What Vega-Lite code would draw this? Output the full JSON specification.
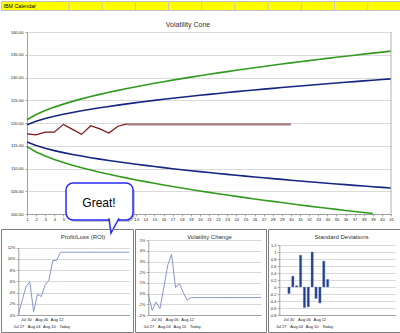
{
  "$schema": "https://vega.github.io/schema/vega-lite/v6.json",
  "padding": 0,
  "background": "white",
  "bounds": "flush",
  "spacing": 0,
  "config": {
    "font": "Liberation Sans",
    "view": {"stroke": null},
    "axis": {"domainColor": "#a0a0a0", "tickColor": "#a0a0a0", "gridColor": "#d9d9d9", "labelColor": "#222222", "labelFont": "Liberation Sans", "labelOverlap": false}
  },
  "datasets": {
    "cone": [
      {"t":1,"ug":120.70,"ub":119.60,"lb":115.80,"lg":114.80,"act":117.6},
      {"t":2,"ug":121.85,"ub":120.37,"lb":115.03,"lg":113.64,"act":117.4},
      {"t":3,"ug":122.74,"ub":120.97,"lb":114.43,"lg":112.75,"act":118.0},
      {"t":4,"ug":123.49,"ub":121.47,"lb":113.93,"lg":111.99,"act":118.0},
      {"t":5,"ug":124.15,"ub":121.91,"lb":113.49,"lg":111.33,"act":119.7},
      {"t":6,"ug":124.75,"ub":122.31,"lb":113.09,"lg":110.73,"act":118.6},
      {"t":7,"ug":125.30,"ub":122.68,"lb":112.73,"lg":110.18,"act":117.5},
      {"t":8,"ug":125.81,"ub":123.02,"lb":112.38,"lg":109.67,"act":119.4},
      {"t":9,"ug":126.29,"ub":123.34,"lb":112.06,"lg":109.19,"act":118.7},
      {"t":10,"ug":126.74,"ub":123.64,"lb":111.76,"lg":108.74,"act":117.8},
      {"t":11,"ug":127.17,"ub":123.93,"lb":111.47,"lg":108.30,"act":119.3},
      {"t":12,"ug":127.58,"ub":124.20,"lb":111.20,"lg":107.89,"act":119.8,"proj":119.7},
      {"t":13,"ug":127.98,"ub":124.47,"lb":110.93,"lg":107.49,"proj":119.7},
      {"t":14,"ug":128.36,"ub":124.72,"lb":110.68,"lg":107.11,"proj":119.7},
      {"t":15,"ug":128.73,"ub":124.97,"lb":110.43,"lg":106.74,"proj":119.7},
      {"t":16,"ug":129.08,"ub":125.21,"lb":110.19,"lg":106.39,"proj":119.7},
      {"t":17,"ug":129.42,"ub":125.44,"lb":109.96,"lg":106.04,"proj":119.7},
      {"t":18,"ug":129.76,"ub":125.66,"lb":109.74,"lg":105.71,"proj":119.7},
      {"t":19,"ug":130.08,"ub":125.88,"lb":109.52,"lg":105.38,"proj":119.7},
      {"t":20,"ug":130.40,"ub":126.09,"lb":109.31,"lg":105.06,"proj":119.7},
      {"t":21,"ug":130.71,"ub":126.30,"lb":109.11,"lg":104.75,"proj":119.7},
      {"t":22,"ug":131.01,"ub":126.50,"lb":108.90,"lg":104.45,"proj":119.7},
      {"t":23,"ug":131.30,"ub":126.69,"lb":108.71,"lg":104.16,"proj":119.7},
      {"t":24,"ug":131.59,"ub":126.89,"lb":108.51,"lg":103.87,"proj":119.7},
      {"t":25,"ug":131.88,"ub":127.08,"lb":108.33,"lg":103.59,"proj":119.7},
      {"t":26,"ug":132.15,"ub":127.26,"lb":108.14,"lg":103.31,"proj":119.7},
      {"t":27,"ug":132.42,"ub":127.44,"lb":107.96,"lg":103.03,"proj":119.7},
      {"t":28,"ug":132.69,"ub":127.62,"lb":107.78,"lg":102.77,"proj":119.7},
      {"t":29,"ug":132.95,"ub":127.80,"lb":107.61,"lg":102.51,"proj":119.7},
      {"t":30,"ug":133.21,"ub":127.97,"lb":107.43,"lg":102.25,"proj":119.7},
      {"t":31,"ug":133.46,"ub":128.14,"lb":107.26,"lg":101.99},
      {"t":32,"ug":133.71,"ub":128.30,"lb":107.10,"lg":101.74},
      {"t":33,"ug":133.96,"ub":128.47,"lb":106.93,"lg":101.50},
      {"t":34,"ug":134.20,"ub":128.63,"lb":106.77,"lg":101.26},
      {"t":35,"ug":134.44,"ub":128.79,"lb":106.61,"lg":101.02},
      {"t":36,"ug":134.67,"ub":128.94,"lb":106.46,"lg":100.78},
      {"t":37,"ug":134.90,"ub":129.10,"lb":106.30,"lg":100.55},
      {"t":38,"ug":135.13,"ub":129.25,"lb":106.15,"lg":100.32},
      {"t":39,"ug":135.35,"ub":129.40,"lb":106.00,"lg":100.10},
      {"t":40,"ug":135.58,"ub":129.55,"lb":105.85},
      {"t":41,"ug":135.80,"ub":129.70,"lb":105.70}
    ],
    "roi": [
      {"i":0,"r":0},{"i":1,"r":0.026},{"i":2,"r":0.0505},{"i":3,"r":0.059},{"i":4,"r":0.006},
      {"i":5,"r":0.037},{"i":6,"r":0.033},{"i":7,"r":0.053},{"i":8,"r":0.062},{"i":9,"r":0.097},
      {"i":10,"r":0.097},{"i":11,"r":0.112},{"i":12,"r":0.112},{"i":13,"r":0.112},{"i":14,"r":0.112},
      {"i":15,"r":0.112},{"i":16,"r":0.112},{"i":17,"r":0.112},{"i":18,"r":0.112},{"i":19,"r":0.112},
      {"i":20,"r":0.112},{"i":21,"r":0.112},{"i":22,"r":0.112},{"i":23,"r":0.112},{"i":24,"r":0.112},
      {"i":25,"r":0.112},{"i":26,"r":0.112},{"i":27,"r":0.112},{"i":28,"r":0.112},{"i":29,"r":0.112}
    ],
    "vc": [
      {"i":0,"c":-0.001},{"i":1,"c":-0.0156},{"i":2,"c":-0.0078},{"i":3,"c":-0.014},{"i":4,"c":0.006},
      {"i":5,"c":0.0266},{"i":6,"c":0.0369},{"i":7,"c":0.0056},{"i":8,"c":0.0094},{"i":9,"c":0.001},
      {"i":10,"c":-0.006},{"i":11,"c":-0.0037},{"i":12,"c":-0.0037},{"i":13,"c":-0.0037},{"i":14,"c":-0.0037},
      {"i":15,"c":-0.0037},{"i":16,"c":-0.0037},{"i":17,"c":-0.0037},{"i":18,"c":-0.0037},{"i":19,"c":-0.0037},
      {"i":20,"c":-0.0037},{"i":21,"c":-0.0037},{"i":22,"c":-0.0037},{"i":23,"c":-0.0037},{"i":24,"c":-0.0037},
      {"i":25,"c":-0.0037},{"i":26,"c":-0.0037},{"i":27,"c":-0.0037},{"i":28,"c":-0.0037},{"i":29,"c":-0.0037}
    ],
    "sd": [
      {"i":2,"z":-0.19},{"i":3,"z":0.31},{"i":4,"z":0.04},{"i":5,"z":0.91},{"i":6,"z":-0.59},
      {"i":7,"z":-0.57},{"i":8,"z":1.0},{"i":9,"z":-0.33},{"i":10,"z":-0.46},{"i":11,"z":0.74},{"i":12,"z":0.22}
    ]
  },
  "vconcat": [
    {
      "width": 400,
      "height": 9,
      "view": {"fill": "#ffff00", "stroke": "#c0c0c0"},
      "encoding": {
        "x": {"field": "c", "type": "quantitative", "scale": {"domain": [0, 12], "range": [1.5, 399.9], "nice": false, "zero": false}, "axis": null}
      },
      "layer": [
        {
          "data": {"values": [{"c":1},{"c":2},{"c":3},{"c":4},{"c":5},{"c":6},{"c":7},{"c":8},{"c":9},{"c":10},{"c":11}]},
          "mark": {"type": "rule", "color": "#c8c8c8", "strokeWidth": 1}
        },
        {
          "data": {"values": [{"c": 0.03, "label": "IBM Calendar"}]},
          "mark": {"type": "text", "align": "left", "baseline": "middle", "fontSize": 5.3, "color": "#000000"},
          "encoding": {
            "text": {"field": "label"}
          }
        }
      ]
    },
    {
      "width": 400,
      "height": 219,
      "title": {"text": "Volatility Cone", "fontSize": 7, "fontWeight": "normal", "color": "#333333", "offset": -18, "anchor": "middle", "dx": -13},
      "encoding": {
        "x": {"field": "t", "type": "quantitative",
          "scale": {"domain": [1, 41], "range": [26, 390], "nice": false, "zero": false},
          "axis": {"title": null, "values": [1,2,3,4,5,6,7,8,9,10,11,12,13,14,15,16,17,18,19,20,21,22,23,24,25,26,27,28,29,30,31,32,33,34,35,36,37,38,39,40,41],
            "format": "d", "offset": -15, "tickSize": 2, "labelFontSize": 4.2, "labelPadding": 1, "labelFlush": false, "labelOverlap": false, "grid": false}},
        "y": {"field": "v", "type": "quantitative",
          "scale": {"domain": [100, 140], "range": [204, 22], "nice": false, "zero": false},
          "axis": {"title": null, "values": [100,105,110,115,120,125,130,135,140], "format": ".2f", "offset": -26, "tickSize": 2, "labelFontSize": 4.2, "labelPadding": 2, "labelOverlap": false, "grid": true}}
      },
      "layer": [
        {
          "data": {"name": "cone"},
          "transform": [{"fold": ["ug", "ub", "lb", "lg"], "as": ["s", "v"]}],
          "mark": {"type": "line", "strokeWidth": 1.6},
          "encoding": {
            "color": {"field": "s", "type": "nominal", "scale": {"domain": ["ug", "ub", "lb", "lg"], "range": ["#339a1f", "#152580", "#152580", "#339a1f"]}, "legend": null}
          }
        },
        {
          "data": {"name": "cone"},
          "transform": [{"fold": ["act"], "as": ["s", "v"]}],
          "mark": {"type": "line", "strokeWidth": 1.2, "color": "#7a1416"}
        },
        {
          "data": {"name": "cone"},
          "transform": [{"fold": ["proj"], "as": ["s", "v"]}],
          "mark": {"type": "line", "strokeWidth": 2.2, "color": "#a57a7c"}
        },
        {
          "data": {"values": [{"t": 41, "v": 100, "v2": 140}]},
          "mark": {"type": "rule", "color": "#b0b0b0", "strokeWidth": 1},
          "encoding": {
            "y2": {"field": "v2"}
          }
        },
        {
          "data": {"values": [{"t": 5.51, "t2": 12.87, "v": 106.37, "v2": 98.24}]},
          "mark": {"type": "rect", "cornerRadius": 7, "fill": "#888888", "opacity": 0.45},
          "encoding": {
            "x2": {"field": "t2"},
            "y2": {"field": "v2"}
          }
        },
        {
          "data": {"values": [{"t": 5.29, "t2": 12.65, "v": 106.81, "v2": 98.68}]},
          "mark": {"type": "rect", "cornerRadius": 7, "fill": "#ffffff", "stroke": "#2b2bf0", "strokeWidth": 1.5},
          "encoding": {
            "x2": {"field": "t2"},
            "y2": {"field": "v2"}
          }
        },
        {
          "data": {"values": [{"t": 10.56, "v": 98.68}]},
          "mark": {"type": "point", "shape": "M-0.714,-0.25L-0.43,1.857L0.714,-0.25", "size": 196, "filled": true, "fill": "#ffffff", "stroke": "#2b2bf0", "strokeWidth": 1.5, "opacity": 1}
        },
        {
          "data": {"values": [{"t": 8.91, "v": 102.31, "label": "Great!"}]},
          "mark": {"type": "text", "fontSize": 12, "align": "center", "baseline": "middle", "color": "#000000"},
          "encoding": {
            "text": {"field": "label"}
          }
        }
      ]
    },
    {
      "hconcat": [
        {
          "width": 132,
          "height": 103,
          "view": {"stroke": "#7f7f7f"},
          "title": {"text": "Profit/Loss (ROI)", "fontSize": 6, "fontWeight": "normal", "color": "#333333", "offset": -10.5, "anchor": "middle", "dx": 16},
          "data": {"name": "roi"},
          "mark": {"type": "line", "color": "#8a96c6", "strokeWidth": 1},
          "encoding": {
            "x": {"field": "i", "type": "quantitative",
              "scale": {"domain": [0, 29], "range": [17.3, 128.3], "nice": false, "zero": false},
              "axis": {"title": null, "values": [0,2,4,6,8,10,12], "ticks": false, "offset": -17, "grid": false, "labelFontSize": 4, "labelPadding": 2, "labelLineHeight": 7, "labelFlush": false, "labelOverlap": false,
                "labelExpr": "datum.value == 0 ? [' ', 'Jul 27'] : datum.value == 2 ? ['Jul 30', ' '] : datum.value == 4 ? [' ', 'Aug 04'] : datum.value == 6 ? ['Aug 06', ' '] : datum.value == 8 ? [' ', 'Aug 10'] : datum.value == 10 ? ['Aug 12', ' '] : datum.value == 12 ? [' ', 'Today'] : ''"}},
            "y": {"field": "r", "type": "quantitative",
              "scale": {"domain": [0, 0.12], "range": [86, 18.7], "nice": false, "zero": false},
              "axis": {"title": null, "values": [0, 0.02, 0.04, 0.06, 0.08, 0.1, 0.12], "format": ".0%", "offset": -17.3, "tickSize": 2, "labelFontSize": 3.8, "labelPadding": 1.5, "labelOverlap": false, "grid": true}}
          }
        },
        {
          "width": 131,
          "height": 103,
          "view": {"stroke": "#7f7f7f"},
          "title": {"text": "Volatility Change", "fontSize": 6, "fontWeight": "normal", "color": "#333333", "offset": -10.5, "anchor": "middle", "dx": 9},
          "data": {"name": "vc"},
          "mark": {"type": "line", "color": "#8a96c6", "strokeWidth": 1},
          "encoding": {
            "x": {"field": "i", "type": "quantitative",
              "scale": {"domain": [0, 29], "range": [13.3, 126], "nice": false, "zero": false},
              "axis": {"title": null, "values": [0,2,4,6,8,10,12], "ticks": false, "offset": -17, "grid": false, "labelFontSize": 4, "labelPadding": 2, "labelLineHeight": 7, "labelFlush": false, "labelOverlap": false,
                "labelExpr": "datum.value == 0 ? [' ', 'Jul 27'] : datum.value == 2 ? ['Jul 30', ' '] : datum.value == 4 ? [' ', 'Aug 04'] : datum.value == 6 ? ['Aug 06', ' '] : datum.value == 8 ? [' ', 'Aug 10'] : datum.value == 10 ? ['Aug 12', ' '] : datum.value == 12 ? [' ', 'Today'] : ''"}},
            "y": {"field": "c", "type": "quantitative",
              "scale": {"domain": [-0.02, 0.05], "range": [86, 11.3], "nice": false, "zero": false},
              "axis": {"title": null, "values": [-0.02, -0.01, 0, 0.01, 0.02, 0.03, 0.04, 0.05], "labelExpr": "replace(format(datum.value, '.0%'), '\u2212', '-')", "offset": -13.3, "tickSize": 2, "labelFontSize": 3.8, "labelPadding": 1.5, "labelOverlap": false, "grid": true}}
          }
        },
        {
          "width": 133,
          "height": 103,
          "view": {"stroke": "#7f7f7f"},
          "title": {"text": "Standard Deviations", "fontSize": 6, "fontWeight": "normal", "color": "#333333", "offset": -10.5, "anchor": "middle", "dx": 7},
          "data": {"name": "sd"},
          "mark": {"type": "bar", "fill": "#203d8c", "stroke": "#7b93cc", "strokeWidth": 0.4},
          "encoding": {
            "x": {"field": "i", "type": "ordinal",
              "scale": {"type": "band", "domain": [0,1,2,3,4,5,6,7,8,9,10,11,12,13,14,15,16,17,18,19,20,21,22,23,24,25,26,27,28,29], "range": [11.3, 127.3], "paddingInner": 0.4, "paddingOuter": 0.2},
              "axis": {"title": null, "ticks": false, "offset": -17, "grid": false, "labelFontSize": 4, "labelPadding": 2, "labelLineHeight": 7, "labelOverlap": false, "labelAngle": 0,
                "labelExpr": "datum.value == 0 ? [' ', 'Jul 27'] : datum.value == 2 ? ['Jul 30', ' '] : datum.value == 4 ? [' ', 'Aug 04'] : datum.value == 6 ? ['Aug 06', ' '] : datum.value == 8 ? [' ', 'Aug 10'] : datum.value == 10 ? ['Aug 12', ' '] : datum.value == 12 ? [' ', 'Today'] : ''"}},
            "y": {"field": "z", "type": "quantitative",
              "scale": {"domain": [-0.8, 1.2], "range": [86, 16], "nice": false, "zero": false},
              "axis": {"title": null, "values": [-0.8, -0.6, -0.4, -0.2, 0, 0.2, 0.4, 0.6, 0.8, 1, 1.2], "labelExpr": "replace(format(datum.value, '~g'), '\u2212', '-')", "offset": -11.3, "tickSize": 2, "labelFontSize": 3.8, "labelPadding": 1.5, "labelOverlap": false, "grid": true}}
          }
        }
      ],
      "spacing": 2,
      "bounds": "flush"
    }
  ]
}
